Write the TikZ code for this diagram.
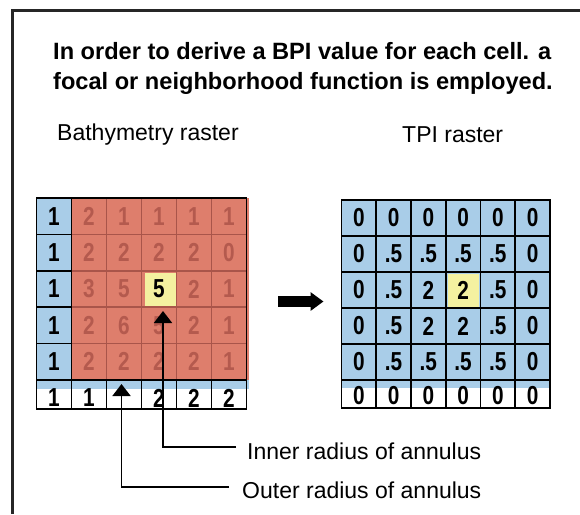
\documentclass[tikz,border=0pt]{standalone}
\usepackage{fontspec}
\setmainfont{Liberation Sans}
\newfontfamily\cellfont[FakeStretch=0.8]{Liberation Sans}
\usetikzlibrary{arrows.meta}
\definecolor{redfill}{HTML}{DE7E6C}
\definecolor{redline}{HTML}{A9554A}
\definecolor{redtxt}{HTML}{B45A4E}
\definecolor{bluefill}{HTML}{A9CDE8}
\definecolor{yelfill}{HTML}{F4F1A0}
\begin{document}
\begin{tikzpicture}[x=1pt,y=-1pt,
  frame/.style={line width=3pt, black!85},
  gridline/.style={line width=1.7pt, black},
  redgrid/.style={line width=1.5pt, redline},
  celltxt/.style={inner sep=0pt, font=\cellfont\bfseries\fontsize{26}{26}\selectfont, text=black},
  fadedtxt/.style={inner sep=0pt, font=\cellfont\bfseries\fontsize{26}{26}\selectfont, text=redtxt},
  titletxt/.style={inner sep=0pt, anchor=base west, font=\bfseries\fontsize{23.6}{28}\selectfont},
  labeltxt/.style={inner sep=0pt, anchor=base west, font=\fontsize{23}{27}\selectfont},
  annarrow/.style={line width=1.8pt, -{Triangle[width=18pt,length=12pt]}},
  bigarrow/.style={line width=11pt, -{Triangle[width=18pt,length=13pt]}}
]
\useasboundingbox (0,0) rectangle (580,514);
% frame
\draw[frame] (12,514) -- (12,10) -- (580,10);

% title and labels
\node[titletxt] (title1) at (53,59) {In order to derive a BPI value for each cell. a};
\node[titletxt] (title2) at (53,89) {focal or neighborhood function is employed.};
\node[labeltxt] (bathy) at (57,140) {Bathymetry raster};
\node[labeltxt] (tpi) at (402,142) {TPI raster};

% ---------- left grid fills
\fill[bluefill] (36.5,198) rectangle (71.5,380);
\fill[redfill] (71.5,198) rectangle (249,380);
\fill[bluefill] (36.5,380) rectangle (249,389);
\fill[yelfill] (145,273) rectangle (177,306);
% left grid lines
\foreach \yy in {234.4,270.8,307.2,343.6} \draw[redgrid] (71.5,\yy) -- (246.5,\yy);
\foreach \xx in {106.5,141.5,176.5,211.5} \draw[redgrid] (\xx,198) -- (\xx,380);
\foreach \yy in {234.4,270.8,307.2,343.6} \draw[gridline] (36.5,\yy) -- (71.5,\yy);
\foreach \xx in {106.5,141.5,176.5,211.5} \draw[gridline] (\xx,380) -- (\xx,409);
\draw[gridline] (71.5,198) -- (71.5,409);
\draw[gridline] (36.5,380) -- (246.5,380);
\draw[gridline] (36.5,198) rectangle (246.5,409);

% left grid numbers
\foreach \r/\vals in {1/{1,2,1,1,1,1},2/{1,2,2,2,2,0},3/{1,3,5,5,2,1},4/{1,2,6,5,2,1},5/{1,2,2,2,2,1},6/{1,1,{},2,2,2}}{
  \foreach \v [count=\c] in \vals {
    \def\st{celltxt}
    \ifnum\r<6 \ifnum\c>1 \def\st{fadedtxt}\fi\fi
    \ifnum\r=3 \ifnum\c=4 \def\st{celltxt}\fi\fi
    \ifnum\r=6 \def\yc{398}\else\pgfmathsetmacro\yc{198+36.4*(\r-0.5)}\fi
    \node[\st] (L\r\c) at ({36.5+35*(\c-0.5)}, \yc) {\v};
  }
}

% ---------- right grid fills
\fill[bluefill] (341.5,200) rectangle (551,388);
\fill[yelfill] (448,274) rectangle (479,307);
\foreach \yy in {236,272,308,344,380} \draw[gridline] (341.5,\yy) -- (550,\yy);
\foreach \xx in {376.25,411,445.75,480.5,515.25} \draw[gridline] (\xx,200) -- (\xx,408);
\draw[gridline] (341.5,200) rectangle (550,408);

\foreach \r/\vals in {1/{0,0,0,0,0,0},2/{0,.5,.5,.5,.5,0},3/{0,.5,2,2,.5,0},4/{0,.5,2,2,.5,0},5/{0,.5,.5,.5,.5,0},6/{0,0,0,0,0,0}}{
  \foreach \v [count=\c] in \vals {
    \ifnum\r=6 \def\yc{396}\else\pgfmathsetmacro\yc{200+36*(\r-0.5)}\fi
    \node[celltxt] (R\r\c) at ({341.5+34.75*(\c-0.5)}, \yc) {\v};
  }
}

% big arrow between the rasters
\coordinate (bigStart) at (278,301.5);
\coordinate (bigEnd) at (323.5,301.5);
\draw[bigarrow] (bigStart) -- (bigEnd);

% annulus labels and pointers
\node[labeltxt] (inner) at (247,459) {Inner radius of annulus};
\node[labeltxt] (outer) at (242,498) {Outer radius of annulus};
\coordinate (innerEnd) at (236,447);
\coordinate (innerTip) at (163,311);
\coordinate (outerEnd) at (229,487);
\coordinate (outerTip) at (121.5,384);
\draw[annarrow] (innerEnd) -| (innerTip);
\draw[annarrow] (outerEnd) -| (outerTip);
\end{tikzpicture}
\end{document}
